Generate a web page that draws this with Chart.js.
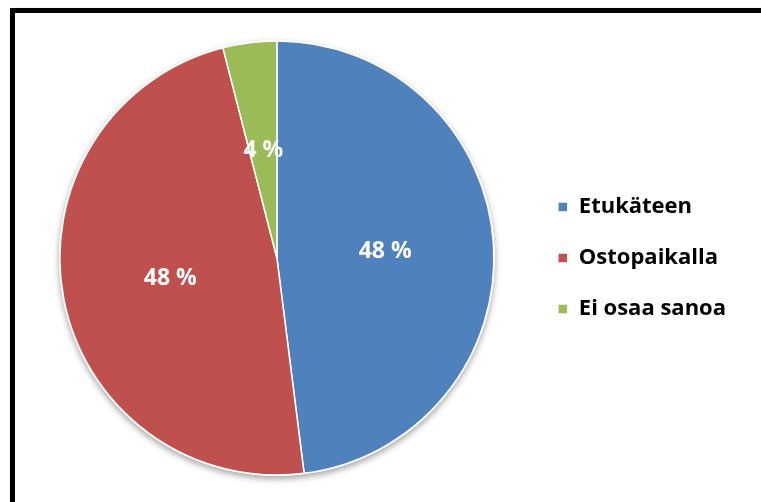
<!DOCTYPE html>
<html>
<head>
<meta charset="utf-8">
<script src="https://cdn.jsdelivr.net/npm/chart.js@4.4.0/dist/chart.umd.min.js"></script>
<style>
  html, body { margin:0; padding:0; background:#fff; overflow:hidden; }
  #frame { position:absolute; left:10px; top:8px; width:800px; height:560px;
           border:5px solid #000; box-shadow:1px 1px 2px rgba(0,0,0,0.4); }
  #wrap { position:absolute; left:0; top:0; width:761px; height:502px; }
</style>
</head>
<body>
<div id="frame"></div>
<div id="wrap"><canvas id="pieChart"></canvas></div>
<script>
const categories = ["Etukäteen", "Ostopaikalla", "Ei osaa sanoa"];
const values = [48, 48, 4];
const colors = ["#4F81BD", "#C0504D", "#9BBB59"];

const FONT = '"Open Sans", sans-serif';

// white disc with soft shadow under the slices
const shadowPlugin = {
  id:"pieShadow",
  beforeDatasetsDraw(chart){
    const arc = chart.getDatasetMeta(0).data[0];
    if(!arc) return;
    const ctx = chart.ctx;
    ctx.save();
    ctx.shadowColor = "rgba(0,0,0,0.35)";
    ctx.shadowBlur = 6;
    ctx.shadowOffsetY = 3;
    ctx.fillStyle = "#fff";
    ctx.beginPath();
    ctx.arc(arc.x, arc.y, arc.outerRadius + 1, 0, Math.PI * 2);
    ctx.fill();
    ctx.restore();
  }
};

const labelPlugin = {
  id:"sliceLabels",
  afterDatasetsDraw(chart){
    const ctx = chart.ctx;
    const meta = chart.getDatasetMeta(0);
    ctx.save();
    ctx.font = "bold 23px " + FONT;
    ctx.fillStyle = "#fff";
    ctx.textAlign = "center";
    ctx.textBaseline = "middle";
    meta.data.forEach((arc, i) => {
      const p = arc.tooltipPosition();
      ctx.fillText(values[i] + " %", p.x, p.y);
    });
    ctx.restore();
  }
};

new Chart(document.getElementById("pieChart"), {
  type:"pie",
  data:{
    labels: categories,
    datasets:[{
      data: values,
      backgroundColor: colors,
      borderColor: "#fff",
      borderWidth: 1.5
    }]
  },
  options:{
    responsive:true,
    maintainAspectRatio:false,
    animation:false,
    radius: 217,
    layout:{ padding:{ left:25, top:41, bottom:27, right:25 } },
    plugins:{
      tooltip:{ enabled:false },
      legend:{
        position:"right",
        labels:{
          boxWidth:10, boxHeight:10,
          padding:29,
          color:"#000",
          font:{ family:FONT, size:22, weight:"bold" }
        }
      }
    }
  },
  plugins:[shadowPlugin, labelPlugin]
});
</script>
</body>
</html>
